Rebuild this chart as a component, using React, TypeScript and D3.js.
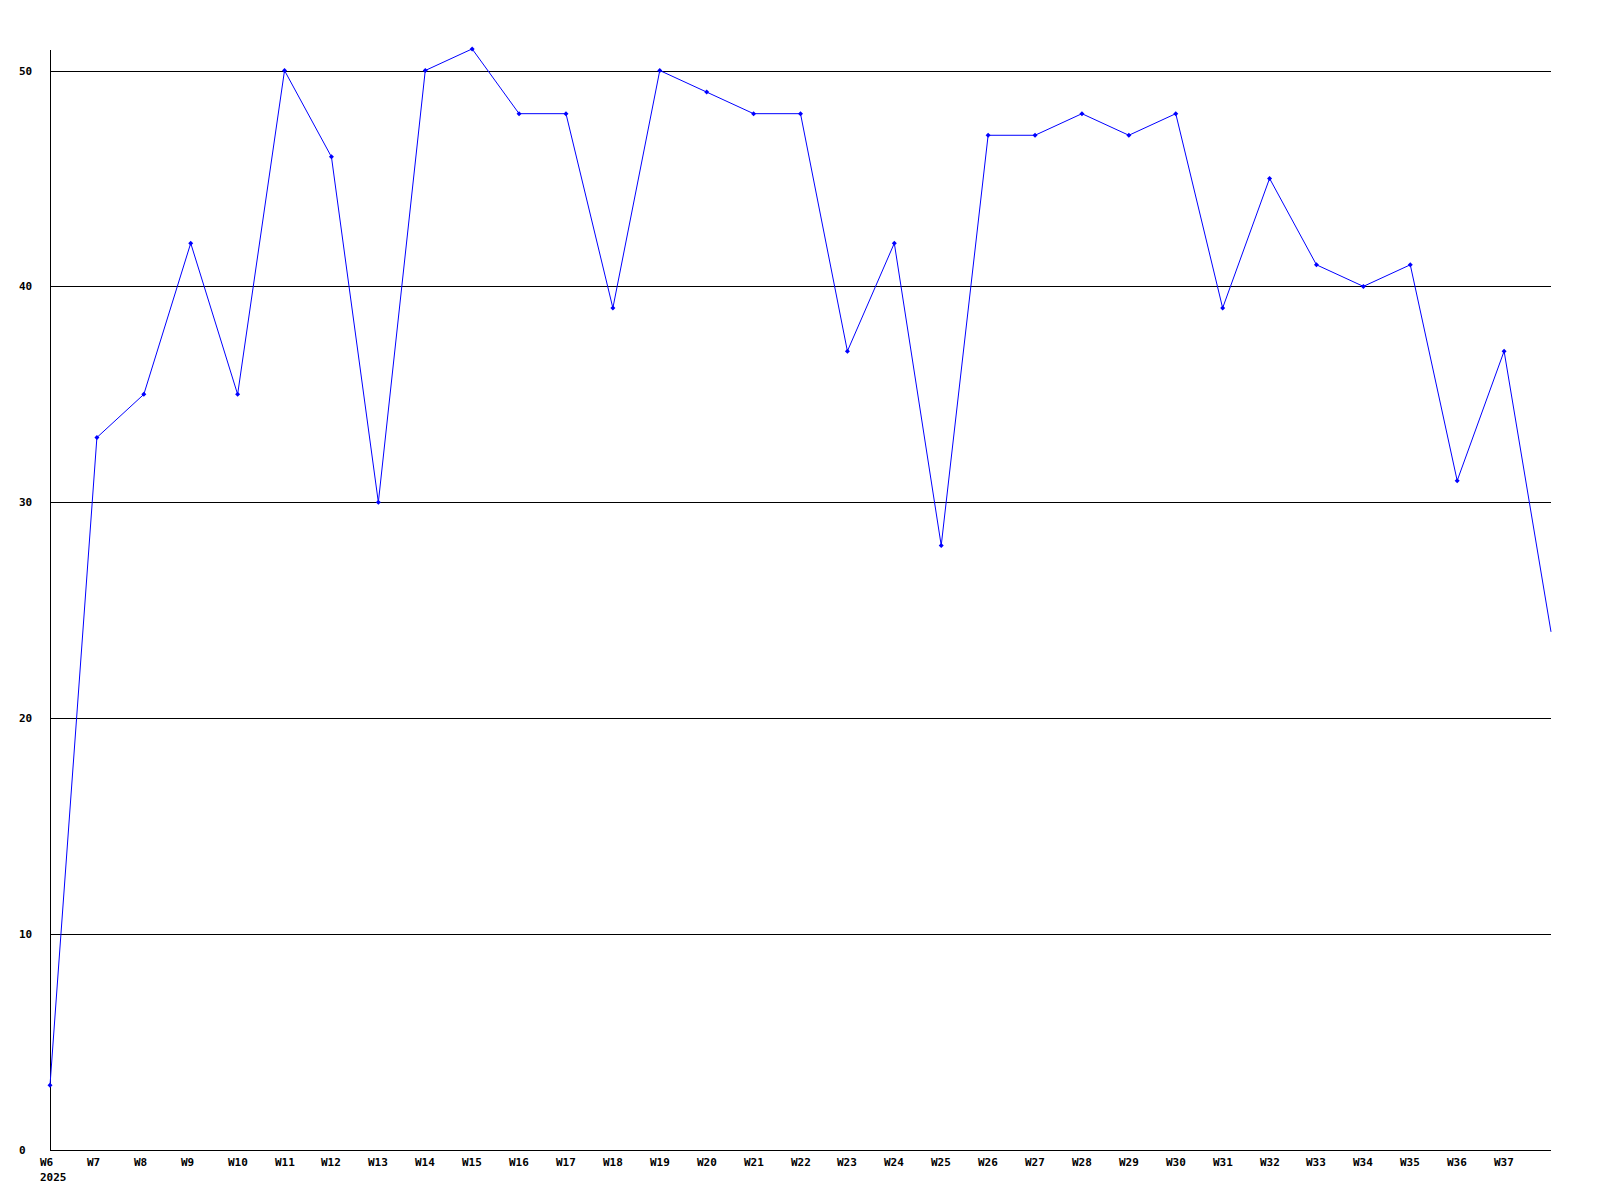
import React from "react";
import * as d3 from "d3";

const weeks = ["W6","W7","W8","W9","W10","W11","W12","W13","W14","W15","W16","W17","W18","W19","W20","W21","W22","W23","W24","W25","W26","W27","W28","W29","W30","W31","W32","W33","W34","W35","W36","W37","W38"];
const values = [3,33,35,42,35,50,46,30,50,51,48,48,39,50,49,48,48,37,42,28,47,47,48,47,48,39,45,41,40,41,31,37,24];
const yTicks = [0,10,20,30,40,50];
const yearLabel = "2025";

const W = 1600, H = 1200;
const left = 50, right = 1551, top = 50, bottom = 1150;

export default function App() {
  const x = d3.scaleLinear().domain([0, weeks.length - 1]).range([left, right]);
  const y = d3.scaleLinear().domain([0, 50]).range([bottom, 70.5]);
  const line = d3.line<number>().x((_, i) => x(i)).y((d) => y(d));
  const font = "'DejaVu Sans Mono', monospace";
  return (
    <svg width={W} height={H} style={{ position: "fixed", left: 0, top: 0, background: "#fff" }}>
      <rect x={0} y={0} width={W} height={H} fill="#fff" />
      {yTicks.map((t) => (
        <g key={t}>
          {t > 0 && (
            <line x1={left} x2={right} y1={Math.round(y(t)) + 0.5} y2={Math.round(y(t)) + 0.5} stroke="#000" strokeWidth={1} />
          )}
          <text x={19} y={Math.round(y(t)) + 4} fontFamily={font} fontWeight="bold" fontSize={11} fill="#000">
            {t}
          </text>
        </g>
      ))}
      <line x1={left + 0.5} x2={left + 0.5} y1={top} y2={bottom + 1} stroke="#000" strokeWidth={1} />
      <line x1={left} x2={right} y1={bottom + 0.5} y2={bottom + 0.5} stroke="#000" strokeWidth={1} />
      {weeks.slice(0, weeks.length - 1).map((w, i) => (
        <text key={w} x={Math.round(x(i)) - 10} y={1166} fontFamily={font} fontWeight="bold" fontSize={11} fill="#000">
          {w}
        </text>
      ))}
      <text x={40} y={1181} fontFamily={font} fontWeight="bold" fontSize={11} fill="#000">
        {yearLabel}
      </text>
      <path d={line(values) || ""} fill="none" stroke="#0000ff" strokeWidth={1} />
      {values.slice(0, values.length - 1).map((v, i) => {
        const cx = x(i), cy = y(v);
        return (
          <path key={i} d={`M${cx - 2.5},${cy} L${cx},${cy - 2.5} L${cx + 2.5},${cy} L${cx},${cy + 2.5} Z`} fill="#0000ff" />
        );
      })}
    </svg>
  );
}
